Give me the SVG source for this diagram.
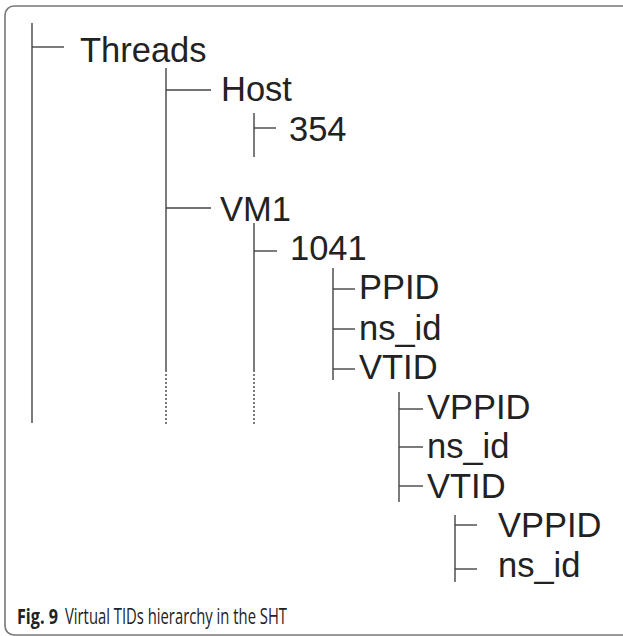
<svg xmlns="http://www.w3.org/2000/svg" width="623" height="636" viewBox="0 0 623 636">
<style>
.t{font-family:"Liberation Sans",Arial,sans-serif;font-size:34.5px;fill:#222}
.c line{stroke:#444;stroke-width:1.4;fill:none}
.c line.d{stroke-dasharray:2,2}
.cap{font-family:"Open Sans","DejaVu Sans",sans-serif;font-size:21px;fill:#222}
</style>
<rect x="5" y="6" width="640" height="629" rx="9" fill="#fff" stroke="#777" stroke-width="1.6"/>
<g id="connectors" class="c">
<line x1="32" y1="23" x2="32" y2="423"/>
<line x1="32" y1="47" x2="64" y2="47"/>
<line x1="166" y1="68" x2="166" y2="370"/>
<line class="d" x1="166" y1="370" x2="166" y2="425"/>
<line x1="166" y1="90" x2="211" y2="90"/>
<line x1="166" y1="208" x2="211" y2="208"/>
<line x1="254" y1="113" x2="254" y2="157"/>
<line x1="254" y1="128" x2="276" y2="128"/>
<line x1="254" y1="223" x2="254" y2="370"/>
<line class="d" x1="254" y1="370" x2="254" y2="425"/>
<line x1="254" y1="251" x2="277" y2="251"/>
<line x1="333" y1="268" x2="333" y2="380"/>
<line x1="333" y1="289" x2="355" y2="289"/>
<line x1="333" y1="329" x2="355" y2="329"/>
<line x1="333" y1="369" x2="355" y2="369"/>
<line x1="399" y1="392" x2="399" y2="502"/>
<line x1="399" y1="409" x2="423" y2="409"/>
<line x1="399" y1="447" x2="423" y2="447"/>
<line x1="399" y1="486" x2="423" y2="486"/>
<line x1="455" y1="515" x2="455" y2="582"/>
<line x1="455" y1="525" x2="477" y2="525"/>
<line x1="455" y1="569" x2="477" y2="569"/>
</g>
<g id="threads"><text class="t" x="80" y="62">Threads</text></g>
<g id="host"><text class="t" x="221" y="101">Host</text></g>
<g id="host-354"><text class="t" x="289" y="141">354</text></g>
<g id="vm1"><text class="t" x="220" y="221">VM1</text></g>
<g id="vm1-1041"><text class="t" x="290" y="260">1041</text></g>
<g id="ppid"><text class="t" x="359" y="299">PPID</text></g>
<g id="ns-id-1"><text class="t" x="359" y="340">ns_id</text></g>
<g id="vtid-1"><text class="t" x="359" y="379">VTID</text></g>
<g id="vppid-2"><text class="t" x="427" y="419">VPPID</text></g>
<g id="ns-id-2"><text class="t" x="427" y="458">ns_id</text></g>
<g id="vtid-2"><text class="t" x="427" y="498">VTID</text></g>
<g id="vppid-3"><text class="t" x="498" y="537">VPPID</text></g>
<g id="ns-id-3"><text class="t" x="498" y="577">ns_id</text></g>
<g id="caption">
<text class="cap" x="17" y="624" font-weight="bold" textLength="41" lengthAdjust="spacingAndGlyphs">Fig. 9</text>
<text class="cap" x="65" y="624" textLength="222" lengthAdjust="spacingAndGlyphs">Virtual TIDs hierarchy in the SHT</text>
</g>
</svg>
